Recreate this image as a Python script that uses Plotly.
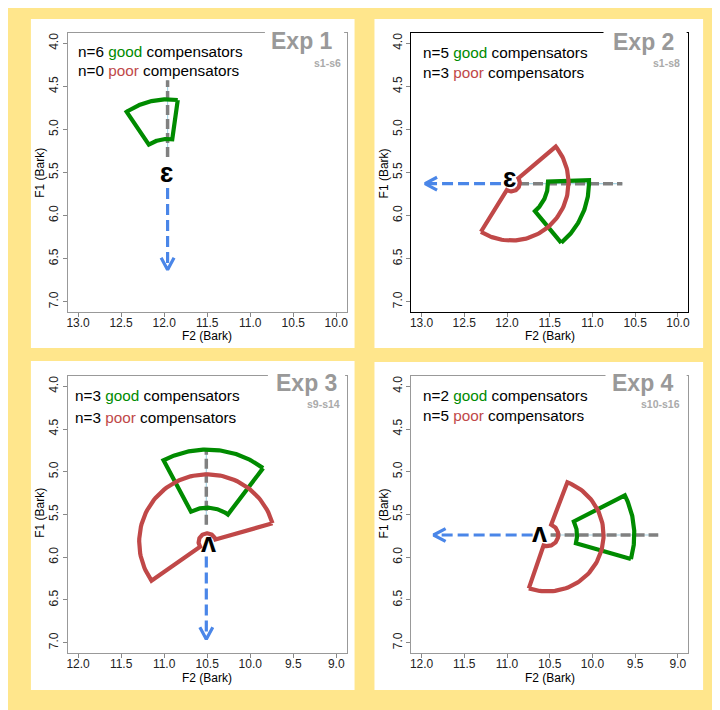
import numpy as np
import plotly.graph_objects as go

W, H = 720, 710
OFF = 8  # page body margin: the figure starts 8 px from the window's top-left

# ---------------- data ----------------
exp_titles = ["Exp 1", "Exp 2", "Exp 3", "Exp 4"]
exp_subjects = ["s1-s6", "s1-s8", "s9-s14", "s10-s16"]
n_good = [6, 5, 3, 2]
n_poor = [0, 3, 3, 5]
vowel_labels = ["ɛ", "ɛ", "ʌ", "ʌ"]

x_ranges = [[13.12, 9.88], [13.12, 9.88], [12.12, 8.88], [12.12, 8.88]]
y_range = [7.12, 3.88]
x_ticks = [[13.0, 12.5, 12.0, 11.5, 11.0, 10.5, 10.0],
           [13.0, 12.5, 12.0, 11.5, 11.0, 10.5, 10.0],
           [12.0, 11.5, 11.0, 10.5, 10.0, 9.5, 9.0],
           [12.0, 11.5, 11.0, 10.5, 10.0, 9.5, 9.0]]
y_ticks = [4.0, 4.5, 5.0, 5.5, 6.0, 6.5, 7.0]

# vowel (sector centre) positions, F2 / F1 in Bark
vowel_x = [11.96, 11.95, 10.50, 10.53]
vowel_y = [5.50, 5.62, 5.82, 5.74]
label_x = [11.97, 11.97, 10.49, 10.62]
label_y = [5.51, 5.56, 5.835, 5.72]

# good compensators: annular sector (radius in Bark, angle in degrees, 0 = toward lower F2, 90 = toward lower F1)
good_r_in = [0.39, 0.43, 0.40, 0.35]
good_r_out = [0.85, 0.91, 1.08, 1.02]
good_ang_from = [82, -50, 53, -16]
good_ang_to = [124, 2, 118, 27]

# poor compensators
poor_r_in = [None, 0.10, 0.10, 0.13]
poor_r_out = [None, 0.67, 0.79, 0.66]
poor_ang_from = [None, -122, 16, -109]
poor_ang_to = [None, 39, 215, 69]

# perturbation arrow (blue): start -> tip
pert_x0 = [11.96, 12.07, 10.51, 10.70]
pert_y0 = [5.68, 5.63, 5.99, 5.74]
pert_x1 = [11.96, 12.96, 10.51, 11.86]
pert_y1 = [6.63, 5.63, 6.96, 5.74]
# opposing (compensation) direction (grey dashed)
comp_x0 = [11.96, 11.86, 10.51, 10.49]
comp_y0 = [5.32, 5.63, 5.62, 5.74]
comp_x1 = [11.96, 10.65, 10.51, 9.23]
comp_y1 = [4.43, 5.63, 4.75, 5.74]

# ---------------- style / layout ----------------
GREEN = "#008B00"
RED = "#C04848"
BLUE = "#4A86E8"
GREY = "#808080"
YELLOW = "#FFE68C"
FONT = "Liberation Sans, Arial, DejaVu Sans, sans-serif"

# window pixel positions: axes boxes left, right, top, bottom
boxes = [(67, 347, 33, 312), (412, 690, 33, 312), (67, 347, 376, 653), (412, 690, 376, 653)]
box_colors = ["#999999", "#000000", "#999999", "#999999"]
white_panels = [(30, 355, 19, 348), (375, 705, 19, 348), (30, 355, 361, 690), (375, 705, 362, 690)]
legend_left = [75, 422, 72, 422]
legend_y1 = [51, 52.5, 395.5, 395.5]
legend_y2 = [71, 73, 417, 415.5]
title_right = [335, 678, 339, 678]
title_y = [41, 41.5, 383, 383]
sub_right = [343, 684, 342, 684]
sub_y = [63, 63, 404, 404]
cover_x = [(265, 344.5), (605, 688.5), (268, 345.5), (607, 688.5)]
xtitle_pos = [(207, 336), (551, 336), (207, 678), (551, 678)]
ytitle_pos = [(39, 173), (385, 173), (39, 513), (385, 513)]


def px(X):
    return (X - OFF) / W


def py(Y):
    return 1 - (Y - OFF) / H


def sector(cx, cy, r0, r1, a0, a1, n=80):
    t = np.radians(np.linspace(a0, a1, n))
    xo = cx - r1 * np.cos(t)
    yo = cy - r1 * np.sin(t)
    xi = cx - r0 * np.cos(t[::-1])
    yi = cy - r0 * np.sin(t[::-1])
    xs = np.concatenate([xo, xi, xo[:1]])
    ys = np.concatenate([yo, yi, yo[:1]])
    return xs, ys


fig = go.Figure()
shapes = []
annotations = []

for i in range(4):
    sfx = "" if i == 0 else str(i + 1)
    xa, ya = "x" + sfx, "y" + sfx
    L, R, T, B = boxes[i]
    wl, wr, wt, wb = white_panels[i]
    shapes.append(dict(type="rect", xref="paper", yref="paper", x0=px(wl), x1=px(wr),
                       y0=py(wb), y1=py(wt), fillcolor="white", line=dict(width=0), layer="below"))

    layout_x = dict(domain=[px(L), px(R)], range=x_ranges[i], anchor=ya,
                    tickvals=x_ticks[i], tickformat=".1f", ticks="outside", ticklen=4,
                    tickcolor="#888888", tickwidth=1, showgrid=False, zeroline=False,
                    showline=True, mirror=True, linecolor=box_colors[i], linewidth=1,
                    ticklabelstandoff=-4,
                    tickfont=dict(family=FONT, size=12, color="#222222"))
    layout_y = dict(domain=[py(B), py(T)], range=y_range, anchor=xa,
                    tickvals=y_ticks, tickformat=".1f", ticks="outside", ticklen=4,
                    tickcolor="#888888", tickwidth=1, showgrid=False, zeroline=False,
                    showline=True, mirror=True, linecolor=box_colors[i], linewidth=1,
                    tickangle=-90,
                    tickfont=dict(family=FONT, size=12, color="#222222"))
    fig.update_layout(**{"xaxis" + sfx: layout_x, "yaxis" + sfx: layout_y})

    # compensation direction: thin light line + grey dashes
    fig.add_trace(go.Scatter(x=[comp_x0[i], comp_x1[i]], y=[comp_y0[i], comp_y1[i]], mode="lines",
                             line=dict(color="#A9D6E5", width=1.2), xaxis=xa, yaxis=ya,
                             showlegend=False, hoverinfo="skip"))
    fig.add_trace(go.Scatter(x=[comp_x0[i], comp_x1[i]], y=[comp_y0[i], comp_y1[i]], mode="lines",
                             line=dict(color=GREY, width=3.5, dash="10px,4px"), xaxis=xa, yaxis=ya,
                             showlegend=False, hoverinfo="skip"))

    # perturbation arrow
    fig.add_trace(go.Scatter(x=[pert_x0[i], pert_x1[i]], y=[pert_y0[i], pert_y1[i]], mode="lines",
                             line=dict(color=BLUE, width=3.2, dash="11px,5px"), xaxis=xa, yaxis=ya,
                             showlegend=False, hoverinfo="skip"))
    dx, dy = pert_x1[i] - pert_x0[i], pert_y1[i] - pert_y0[i]
    ln = np.hypot(dx, dy)
    ux, uy = dx / ln, dy / ln
    hl, ha = 0.16, np.radians(28)
    wings = []
    for s in (1, -1):
        c, sn = np.cos(s * ha), np.sin(s * ha)
        rx, ry = ux * c - uy * sn, ux * sn + uy * c
        wings.append((pert_x1[i] - hl * rx, pert_y1[i] - hl * ry))
    fig.add_trace(go.Scatter(x=[wings[0][0], pert_x1[i], wings[1][0]],
                             y=[wings[0][1], pert_y1[i], wings[1][1]], mode="lines",
                             line=dict(color=BLUE, width=3.2), xaxis=xa, yaxis=ya,
                             showlegend=False, hoverinfo="skip"))

    # sectors
    gx, gy = sector(vowel_x[i], vowel_y[i], good_r_in[i], good_r_out[i], good_ang_from[i], good_ang_to[i])
    fig.add_trace(go.Scatter(x=gx, y=gy, mode="lines", line=dict(color=GREEN, width=4.2),
                             xaxis=xa, yaxis=ya, showlegend=False, hoverinfo="skip"))
    if poor_r_out[i] is not None:
        rx_, ry_ = sector(vowel_x[i], vowel_y[i], poor_r_in[i], poor_r_out[i], poor_ang_from[i], poor_ang_to[i])
        fig.add_trace(go.Scatter(x=rx_, y=ry_, mode="lines", line=dict(color=RED, width=4.2),
                                 xaxis=xa, yaxis=ya, showlegend=False, hoverinfo="skip"))

    # vowel label
    annotations.append(dict(x=label_x[i], y=label_y[i], xref=xa, yref=ya, text="<b>%s</b>" % vowel_labels[i],
                            showarrow=False, font=dict(family=FONT, size=27, color="black"),
                            xanchor="center", yanchor="middle"))

    # white cover for title over top border
    cx0, cx1 = cover_x[i]
    shapes.append(dict(type="rect", xref="paper", yref="paper", x0=px(cx0), x1=px(cx1),
                       y0=py(T + 4), y1=py(T - 5), fillcolor="white", line=dict(width=0), layer="above"))

    # legend text
    annotations.append(dict(x=px(legend_left[i]), y=py(legend_y1[i]), xref="paper", yref="paper",
                            text="n=%d <span style='color:%s'>good</span> compensators" % (n_good[i], GREEN),
                            showarrow=False, xanchor="left", yanchor="middle",
                            font=dict(family=FONT, size=15.3, color="black")))
    annotations.append(dict(x=px(legend_left[i]), y=py(legend_y2[i]), xref="paper", yref="paper",
                            text="n=%d <span style='color:%s'>poor</span> compensators" % (n_poor[i], RED),
                            showarrow=False, xanchor="left", yanchor="middle",
                            font=dict(family=FONT, size=15.3, color="black")))
    # titles
    annotations.append(dict(x=px(title_right[i]), y=py(title_y[i]), xref="paper", yref="paper",
                            text="<b>%s</b>" % exp_titles[i], showarrow=False, xanchor="right",
                            yanchor="middle", font=dict(family=FONT, size=23, color="#999999")))
    annotations.append(dict(x=px(sub_right[i]), y=py(sub_y[i]), xref="paper", yref="paper",
                            text="<b>%s</b>" % exp_subjects[i], showarrow=False, xanchor="right",
                            yanchor="middle", font=dict(family=FONT, size=10.5, color="#AAAAAA")))
    # axis titles
    annotations.append(dict(x=px(xtitle_pos[i][0]), y=py(xtitle_pos[i][1]), xref="paper", yref="paper",
                            text="F2 (Bark)", showarrow=False, xanchor="center", yanchor="middle",
                            font=dict(family=FONT, size=12, color="black")))
    annotations.append(dict(x=px(ytitle_pos[i][0]), y=py(ytitle_pos[i][1]), xref="paper", yref="paper",
                            text="F1 (Bark)", showarrow=False, xanchor="center", yanchor="middle",
                            textangle=-90, font=dict(family=FONT, size=12, color="black")))

fig.update_layout(width=W, height=H, margin=dict(l=0, r=0, t=0, b=0),
                  paper_bgcolor=YELLOW, plot_bgcolor="rgba(0,0,0,0)",
                  shapes=shapes, annotations=annotations, showlegend=False)

fig.write_html("out.html")
